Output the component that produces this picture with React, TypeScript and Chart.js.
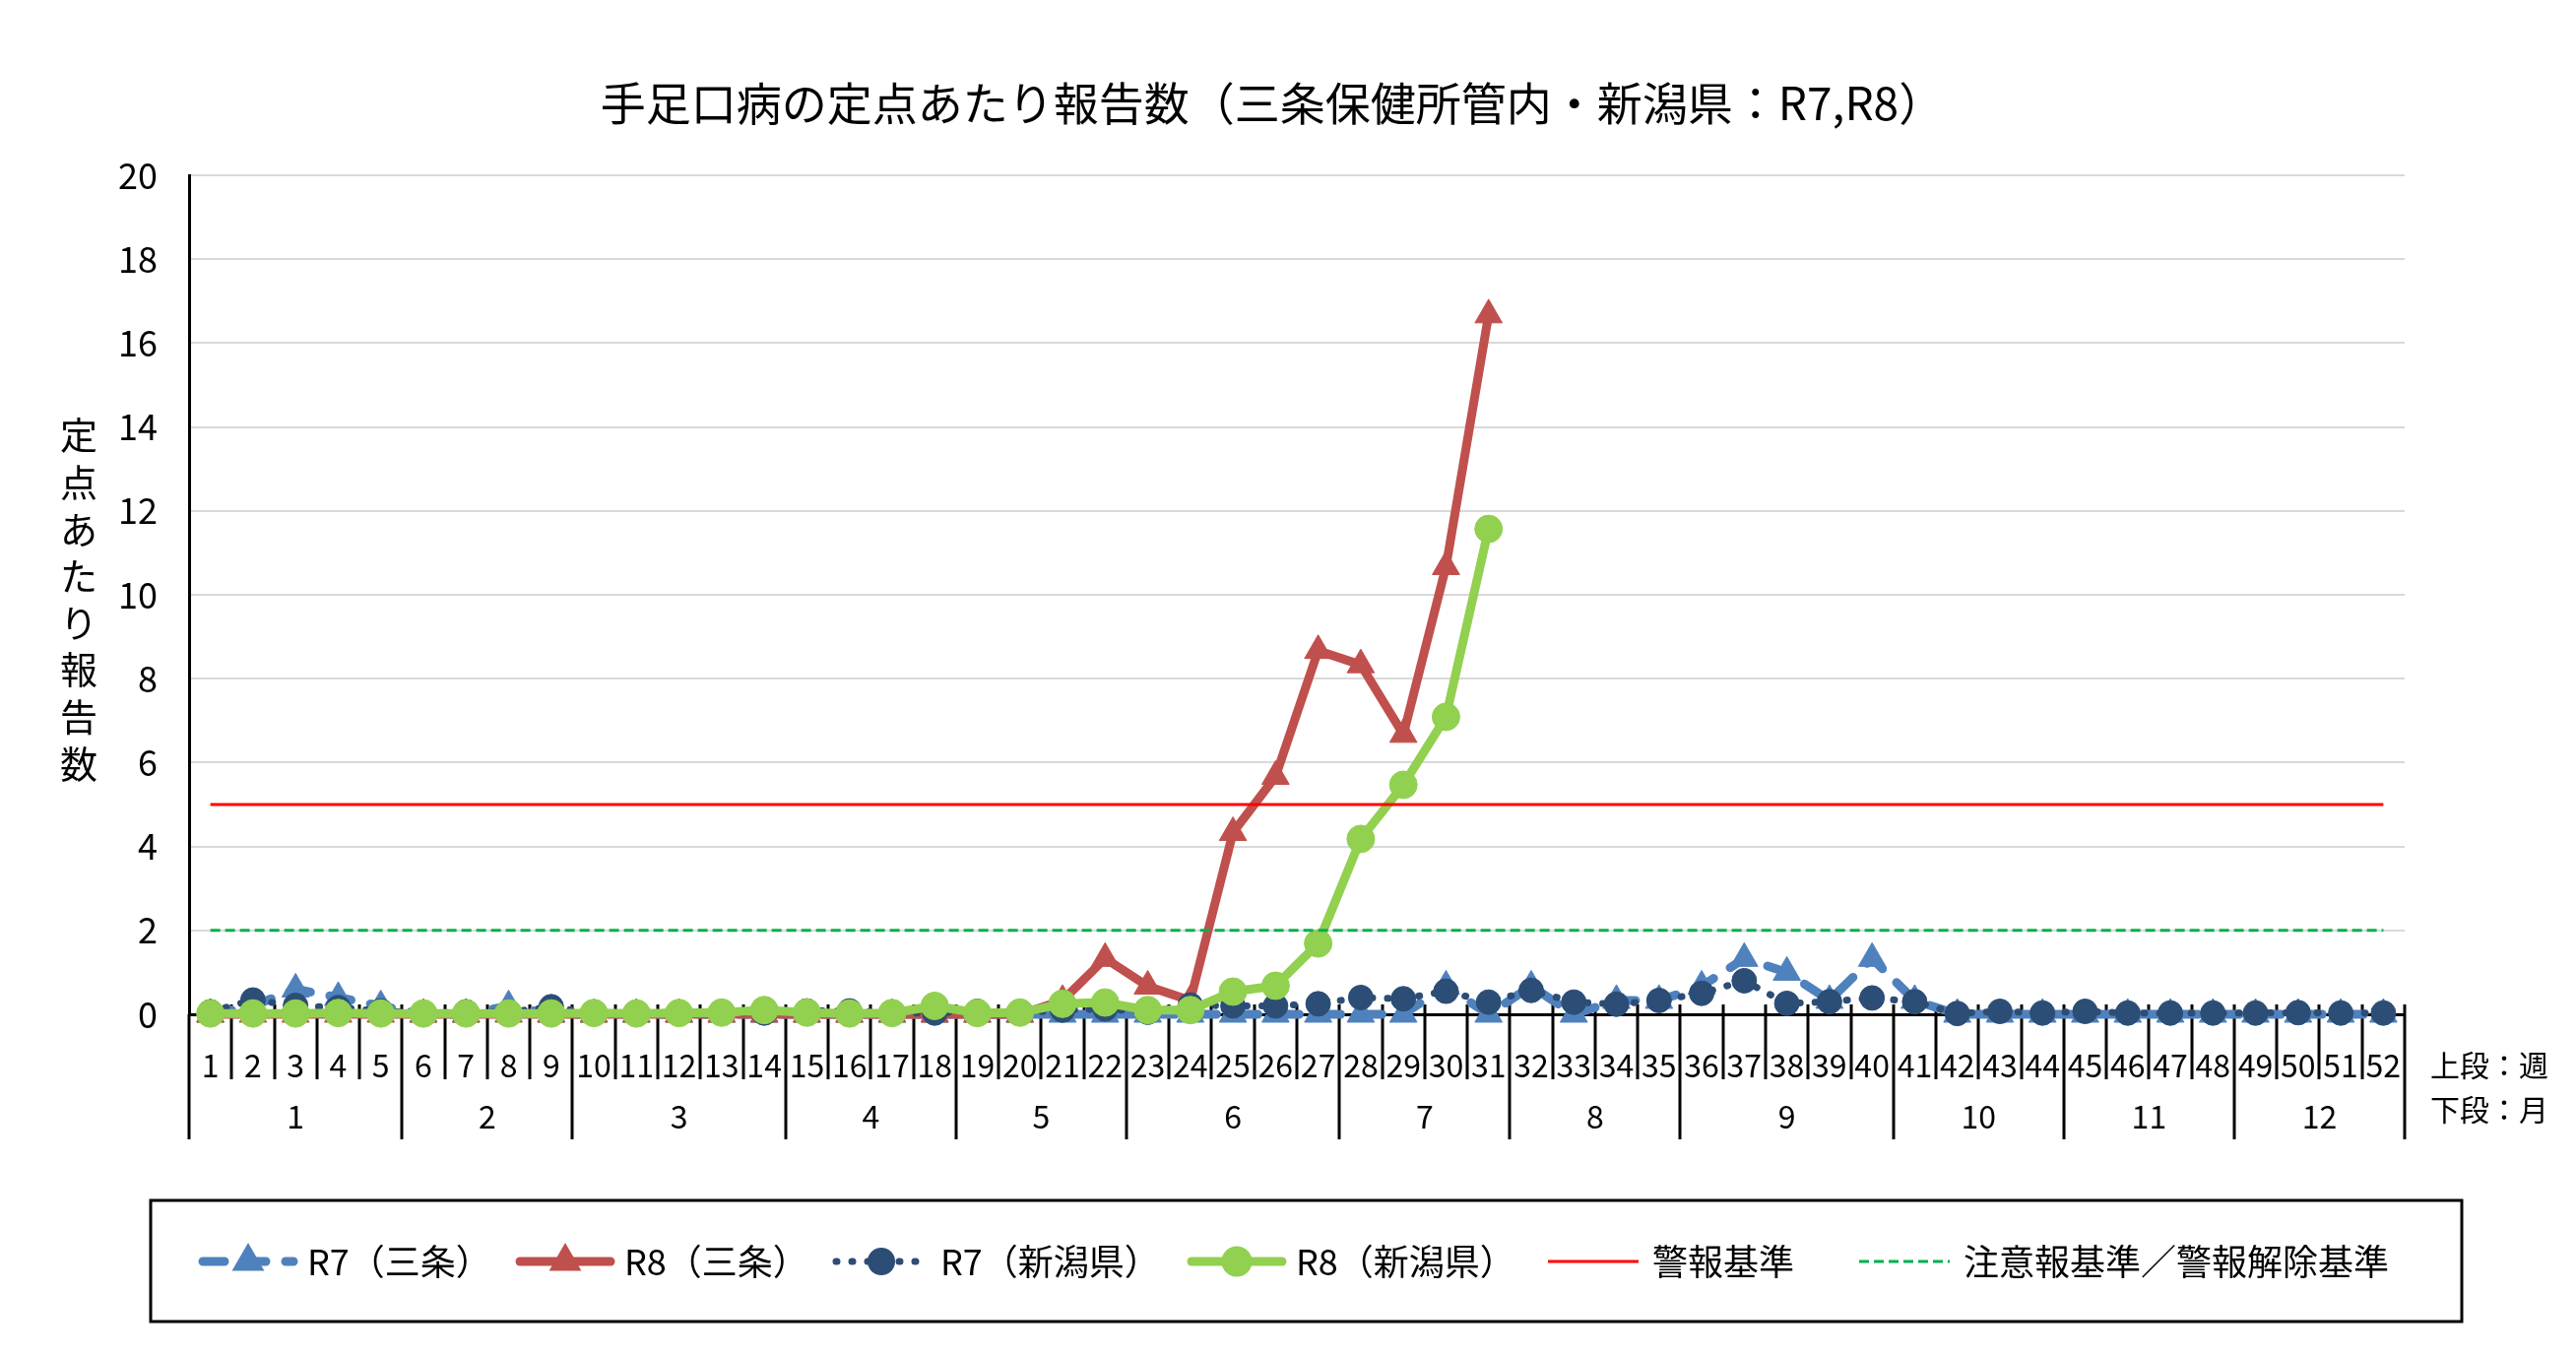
import { useEffect, useRef } from "react"
import { Chart, registerables } from "chart.js"
import { drawPoint } from "chart.js/helpers"

Chart.register(...registerables)

const FONT = "'Noto Sans CJK JP', 'Noto Sans', sans-serif"

const titleText = "手足口病の定点あたり報告数（三条保健所管内・新潟県：R7,R8）"
const yAxisTitle = "定点あたり報告数"

// 上段：週
const weekLabels = [
  "1", "2", "3", "4", "5", "6", "7", "8", "9", "10",
  "11", "12", "13", "14", "15", "16", "17", "18", "19", "20",
  "21", "22", "23", "24", "25", "26", "27", "28", "29", "30",
  "31", "32", "33", "34", "35", "36", "37", "38", "39", "40",
  "41", "42", "43", "44", "45", "46", "47", "48", "49", "50",
  "51", "52",
]
// 下段：月
const monthLabels = ["1", "2", "3", "4", "5", "6", "7", "8", "9", "10", "11", "12"]
const weeksPerMonth = [5, 4, 5, 4, 4, 5, 4, 4, 5, 4, 4, 4]

const r7Sanjo = [
  0, 0.2, 0.6, 0.4, 0.2, 0, 0, 0.2, 0, 0,
  0, 0, 0, 0, 0, 0, 0, 0, 0, 0,
  0, 0, 0, 0, 0, 0, 0, 0, 0, 0.67,
  0, 0.67, 0, 0.33, 0.33, 0.67, 1.33, 1, 0.33, 1.33,
  0.33, 0, 0, 0, 0, 0, 0, 0, 0, 0,
  0, 0,
]
const r8Sanjo = [
  0, 0, 0, 0, 0, 0, 0, 0, 0, 0,
  0, 0, 0, 0, 0, 0, 0, 0, 0, 0,
  0.33, 1.33, 0.67, 0.33, 4.33, 5.67, 8.67, 8.33, 6.67, 10.67,
  16.67,
]
const r7Niigata = [
  0.06, 0.34, 0.21, 0.16, 0.08, 0.03, 0.06, 0.05, 0.18, 0.02,
  0.04, 0.04, 0.03, 0.03, 0.08, 0.08, 0.03, 0.03, 0.07, 0.03,
  0.1, 0.13, 0.05, 0.22, 0.2, 0.2, 0.25, 0.4, 0.37, 0.55,
  0.29, 0.57, 0.29, 0.24, 0.33, 0.5, 0.8, 0.26, 0.3, 0.39,
  0.3, 0.02, 0.07, 0.03, 0.07, 0.03, 0.03, 0.03, 0.03, 0.04,
  0.03, 0.03,
]
const r8Niigata = [
  0.02, 0.02, 0.02, 0.03, 0.02, 0.02, 0.02, 0.02, 0.02, 0.03,
  0.02, 0.03, 0.04, 0.1, 0.04, 0.02, 0.03, 0.2, 0.03, 0.04,
  0.25, 0.28, 0.1, 0.1, 0.54, 0.68, 1.69, 4.18, 5.47, 7.09,
  11.57,
]
const alertThreshold = 5
const advisoryThreshold = 2

const BLUE = "#4F81BD"
const RED = "#C0504D"
const NAVY = "#2C4D75"
const GREEN = "#92D050"

// left edge of each legend entry
const legendItemX = [206, 528, 849, 1210, 1572, 1888]

const decorPlugin = {
  id: "decor",
  beforeDatasetsDraw(chart: any) {
    const { ctx, chartArea, scales } = chart
    const xs = scales.x
    const step = xs.getPixelForValue(1) - xs.getPixelForValue(0)
    const x0 = xs.getPixelForValue(0) - step / 2
    const bottom = chartArea.bottom

    const monthEdges = new Set<number>([0])
    let acc = 0
    weeksPerMonth.forEach((n) => {
      acc += n
      monthEdges.add(acc)
    })

    ctx.save()
    ctx.strokeStyle = "#000"
    ctx.lineWidth = 3
    for (let i = 0; i <= weekLabels.length; i++) {
      const x = Math.round(x0 + i * step)
      ctx.beginPath()
      ctx.moveTo(x, i === 0 ? bottom : bottom - 10)
      ctx.lineTo(x, bottom + (monthEdges.has(i) ? 127 : 66))
      ctx.stroke()
    }

    ctx.fillStyle = "#000"
    ctx.font = `32px ${FONT}`
    ctx.textAlign = "center"
    ctx.textBaseline = "middle"
    acc = 0
    monthLabels.forEach((m, k) => {
      ctx.fillText(m, x0 + (acc + weeksPerMonth[k] / 2) * step, bottom + 104)
      acc += weeksPerMonth[k]
    })

    ctx.textAlign = "left"
    ctx.font = `30px ${FONT}`
    ctx.fillText("上段：週", 2468, bottom + 52)
    ctx.fillText("下段：月", 2468, bottom + 97)
    ctx.restore()
  },
  afterDraw(chart: any) {
    const { ctx } = chart
    ctx.save()
    ctx.fillStyle = "#000"
    ctx.textBaseline = "middle"

    // title
    ctx.textAlign = "center"
    ctx.font = `46px ${FONT}`
    ctx.fillText(titleText, 1292, 105)

    // vertical axis title
    ctx.font = `38px ${FONT}`
    Array.from(yAxisTitle).forEach((ch, k) => {
      ctx.fillText(ch, 80, 442 + k * 47.6)
    })

    // legend
    ctx.strokeStyle = "#000"
    ctx.lineWidth = 3
    ctx.strokeRect(153, 1219, 2347, 123)
    const cy = 1281
    chart.data.datasets.forEach((ds: any, i: number) => {
      const sx = legendItemX[i]
      ctx.save()
      ctx.strokeStyle = ds.borderColor
      ctx.lineWidth = ds.borderWidth
      ctx.lineCap = ds.borderCapStyle || "butt"
      ctx.setLineDash(ds.borderDash || [])
      ctx.beginPath()
      ctx.moveTo(sx, cy)
      ctx.lineTo(sx + 92, cy)
      ctx.stroke()
      ctx.restore()
      if (ds.pointRadius > 0) {
        ctx.save()
        ctx.fillStyle = ds.pointBackgroundColor
        ctx.strokeStyle = ds.pointBorderColor
        drawPoint(ctx, { pointStyle: ds.pointStyle, rotation: 0, radius: ds.pointRadius, borderWidth: 1 }, sx + 46, cy)
        ctx.restore()
      }
      ctx.fillStyle = "#000"
      ctx.textAlign = "left"
      ctx.font = `36px ${FONT}`
      ctx.fillText(ds.label, sx + 106, cy)
    })
    ctx.restore()
  },
}

export default function App() {
  const chartRef = useRef<HTMLCanvasElement>(null)
  const chartInstance = useRef<Chart | null>(null)

  useEffect(() => {
    if (!chartRef.current) return
    if (chartInstance.current) {
      chartInstance.current.destroy()
    }
    const ctx = chartRef.current.getContext("2d")
    if (!ctx) return

    chartInstance.current = new Chart(ctx, {
      type: "line",
      data: {
        labels: weekLabels,
        datasets: [
          {
            label: "R7（三条）",
            data: r7Sanjo,
            borderColor: BLUE,
            backgroundColor: BLUE,
            borderWidth: 9,
            borderDash: [22, 20],
            borderCapStyle: "round",
            pointStyle: "triangle",
            pointRadius: 16,
            pointBackgroundColor: BLUE,
            pointBorderColor: BLUE,
            pointBorderWidth: 1,
            order: 6,
            clip: false,
          },
          {
            label: "R8（三条）",
            data: r8Sanjo,
            borderColor: RED,
            backgroundColor: RED,
            borderWidth: 9,
            borderCapStyle: "round",
            borderJoinStyle: "round",
            pointStyle: "triangle",
            pointRadius: 16,
            pointBackgroundColor: RED,
            pointBorderColor: RED,
            pointBorderWidth: 1,
            order: 5,
            clip: false,
          },
          {
            label: "R7（新潟県）",
            data: r7Niigata,
            borderColor: NAVY,
            backgroundColor: NAVY,
            borderWidth: 7,
            borderDash: [1, 15],
            borderCapStyle: "round",
            pointStyle: "circle",
            pointRadius: 12.5,
            pointBackgroundColor: NAVY,
            pointBorderColor: NAVY,
            pointBorderWidth: 1,
            order: 4,
            clip: false,
          },
          {
            label: "R8（新潟県）",
            data: r8Niigata,
            borderColor: GREEN,
            backgroundColor: GREEN,
            borderWidth: 9,
            borderCapStyle: "round",
            borderJoinStyle: "round",
            pointStyle: "circle",
            pointRadius: 14,
            pointBackgroundColor: GREEN,
            pointBorderColor: GREEN,
            pointBorderWidth: 1,
            order: 3,
            clip: false,
          },
          {
            label: "警報基準",
            data: [
              { x: weekLabels[0], y: alertThreshold },
              { x: weekLabels[weekLabels.length - 1], y: alertThreshold },
            ],
            borderColor: "#FF0000",
            backgroundColor: "#FF0000",
            borderWidth: 3,
            pointRadius: 0,
            order: 2,
          },
          {
            label: "注意報基準／警報解除基準",
            data: [
              { x: weekLabels[0], y: advisoryThreshold },
              { x: weekLabels[weekLabels.length - 1], y: advisoryThreshold },
            ],
            borderColor: "#00B050",
            backgroundColor: "#00B050",
            borderWidth: 3,
            borderDash: [10, 5],
            pointRadius: 0,
            order: 1,
          },
        ] as any,
      },
      options: {
        animation: false,
        responsive: true,
        maintainAspectRatio: false,
        layout: { padding: { top: 178, right: 174, bottom: 0, left: 0 } },
        elements: { line: { tension: 0 } },
        plugins: {
          legend: { display: false },
          title: { display: false },
          tooltip: { enabled: false },
        },
        scales: {
          x: {
            type: "category",
            offset: true,
            grid: { display: false },
            border: { display: true, color: "#000", width: 3 },
            ticks: {
              color: "#000",
              font: { size: 32, family: FONT },
              padding: 25,
              autoSkip: false,
              maxRotation: 0,
              minRotation: 0,
            },
            afterFit: (scale: any) => {
              scale.height = 347
            },
          },
          y: {
            min: 0,
            max: 20,
            ticks: {
              stepSize: 2,
              color: "#000",
              font: { size: 36, family: FONT },
              padding: 32,
            },
            grid: { color: "#D9D9D9", lineWidth: 2, drawTicks: false },
            border: { display: true, color: "#000", width: 3 },
            afterFit: (scale: any) => {
              scale.width = 192
            },
          },
        },
      },
      plugins: [decorPlugin],
    })

    return () => {
      if (chartInstance.current) {
        chartInstance.current.destroy()
        chartInstance.current = null
      }
    }
  }, [])

  return (
    <div style={{ position: "fixed", left: 0, top: 0, width: 2616, height: 1377, background: "#fff" }}>
      <canvas ref={chartRef} />
    </div>
  )
}
